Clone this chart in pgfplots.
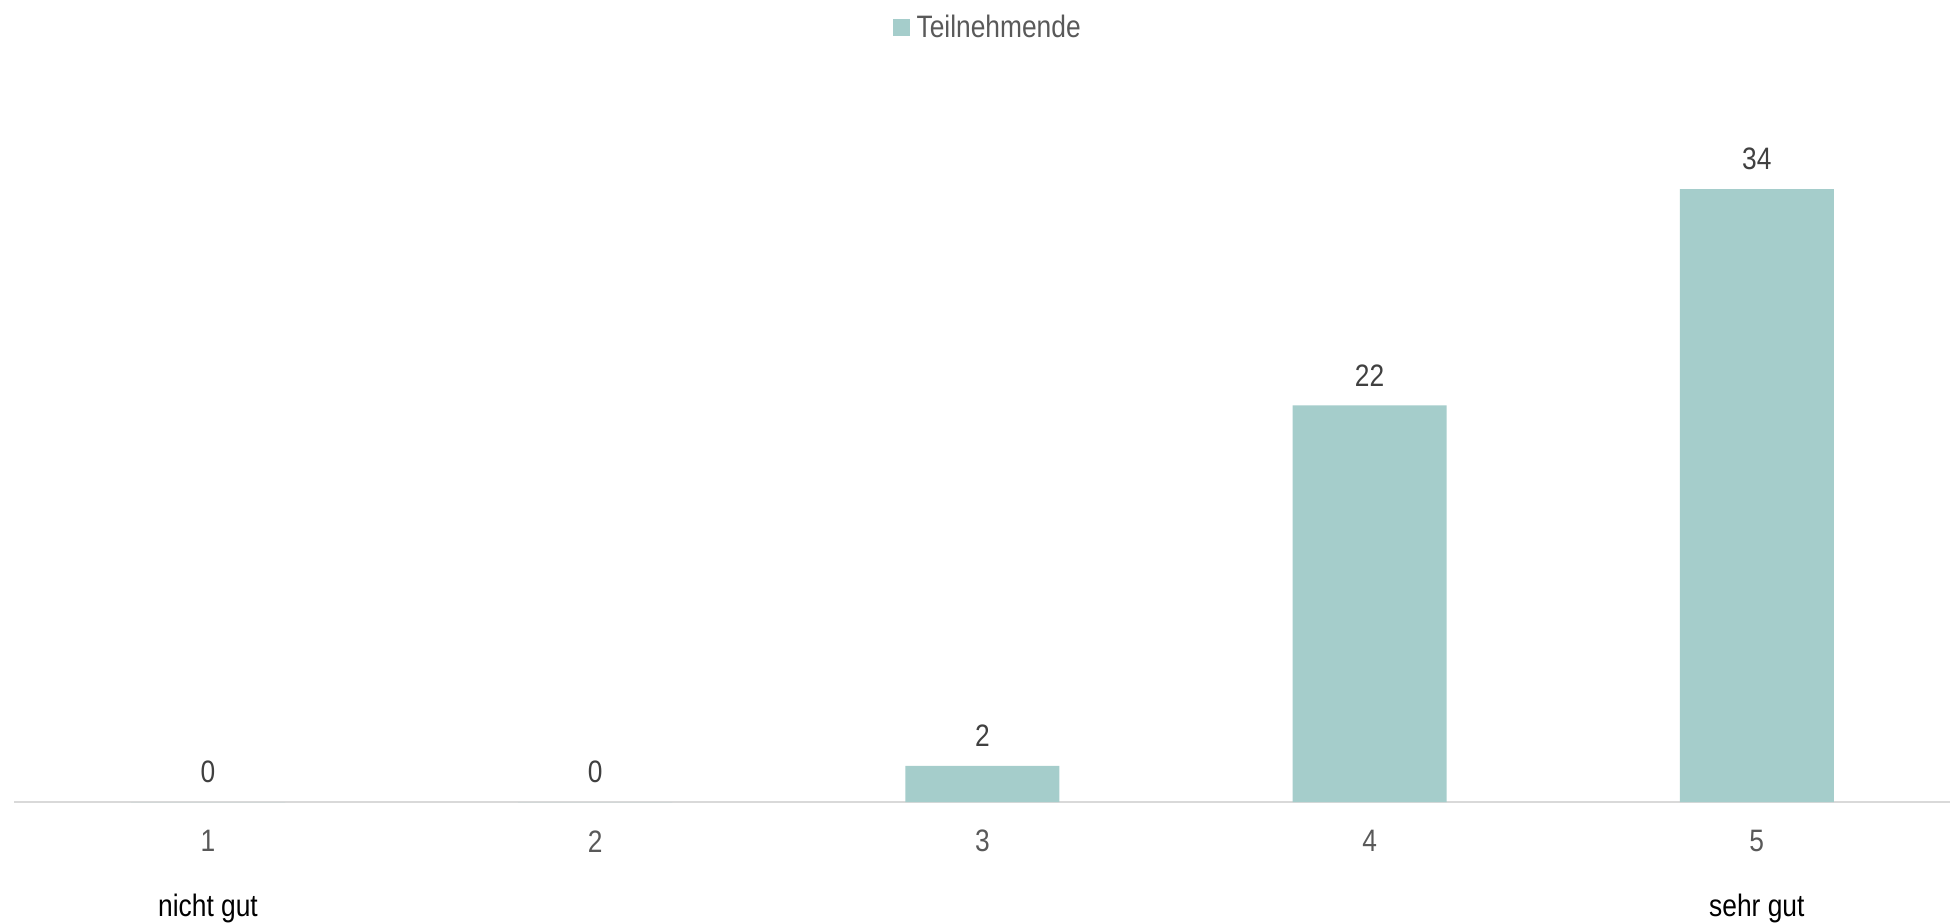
\documentclass[border=0pt]{standalone}
\usepackage{fontspec}
\setmainfont{Liberation Sans}[FakeStretch=0.85]
\usepackage{pgfplots}
\pgfplotsset{compat=1.18}
\definecolor{barc}{HTML}{A5CDCB}
\definecolor{tickc}{HTML}{595959}
\definecolor{lblc}{HTML}{404040}
\definecolor{axc}{HTML}{D9D9D9}
\begin{document}
\begin{tikzpicture}
\path[use as bounding box] (-7.2pt,-60.5pt) rectangle (968.8pt,401pt);
\begin{axis}[
  at={(0,0)}, anchor=south west,
  scale only axis, width=968pt, height=360.5pt,
  xmin=0.5, xmax=5.5, ymin=0, ymax=40,
  axis x line=bottom, axis y line=none,
  axis line style={axc, line width=1pt, -},
  xtick={1,2,3,4,5}, xticklabels={1,2,3,4,5},
  major tick length=0pt,
  xticklabel style={anchor=center, yshift=-19.6pt, text=tickc, font=\fontsize{15.5}{18}\selectfont},
  /pgf/number format/assume math mode=true,
  ybar, bar width=77pt, bar shift=0pt,
  nodes near coords,
  every node near coord/.append style={anchor=center, yshift=15pt, text=lblc, font=\fontsize{15.5}{18}\selectfont},
  legend style={at={(0.504,1.0745)}, anchor=center, draw=none, fill=none, font=\fontsize{15.5}{18}\selectfont, text=tickc, inner sep=0pt},
  legend image code/.code={\fill[barc] (0pt,-4.25pt) rectangle (8.5pt,4.25pt);},
  legend cell align=left,
  legend style={/tikz/every even column/.append style={column sep=0pt}, nodes={inner xsep=3.5pt}},
  clip=false,
]
\addplot[fill=barc, draw=none] coordinates {(1,0) (2,0) (3,2) (4,22) (5,34)};
\addlegendentry{Teilnehmende}
\node[font=\fontsize{15.5}{18}\selectfont, text=black] at ([yshift=-53.4pt]axis cs:1,0) {nicht gut};
\node[font=\fontsize{15.5}{18}\selectfont, text=black] at ([yshift=-53.4pt]axis cs:5,0) {sehr gut};
\end{axis}
\end{tikzpicture}
\end{document}
